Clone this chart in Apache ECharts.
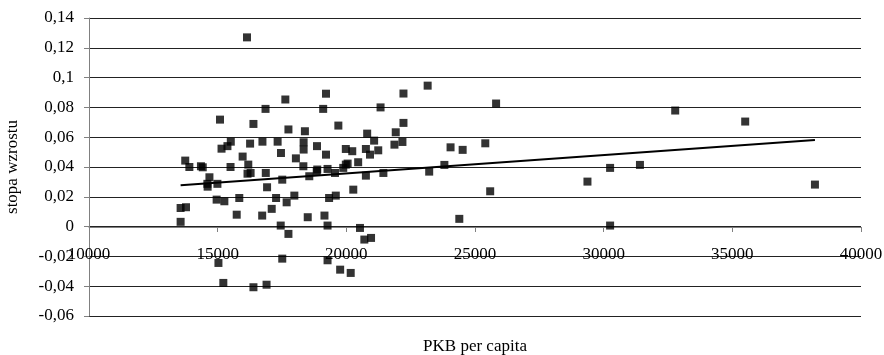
<!DOCTYPE html>
<html>
<head>
<meta charset="utf-8">
<script src="https://cdn.jsdelivr.net/npm/echarts@6/dist/echarts.min.js"></script>
<style>
  html, body { margin: 0; padding: 0; background: #fff; }
  #chart { width: 884px; height: 355px; }
</style>
</head>
<body>
<div id="chart"></div>
<script>
// PKB per capita (x) i stopa wzrostu (y)
const pkb = [
  16140, 15090, 13740, 13900, 14350, 14420, 14680, 15150, 15380, 15510,
  15500, 15970, 16190, 16160, 16280, 16390, 16260, 16860, 16740, 16870,
  17630, 17330, 17460, 17750, 18040, 19210, 19100, 18390, 19690, 18340,
  18340, 18860, 19210, 19980, 20230, 21080, 20760, 20920, 21240, 21870,
  20460, 20050, 19980, 18330, 18870, 19270, 19880, 18850, 19560, 17510,
  18560, 20760, 21440, 16920, 17270, 17680, 17980, 19330, 19590, 20270,
  17100, 16730, 18500, 19150, 19270, 17450, 17750, 20530, 20700, 20960,
  17510, 19270, 19760, 20170, 14600, 14610, 14990, 14960, 15260, 15840,
  13560, 13770, 13560, 15740, 15030, 15220, 16390, 16900, 23160, 22220,
  21330, 25820, 22220, 21920, 20810, 22180, 24050, 24520, 25400, 23220,
  23810, 25590, 24390, 32780, 35500, 30250, 31410, 29370, 38210, 30250
]
const wzrost = [
  0.127, 0.0718, 0.0443, 0.0400, 0.0405, 0.0398, 0.0331, 0.0523, 0.0540, 0.0570,
  0.0400, 0.0470, 0.0416, 0.0355, 0.0360, 0.0689, 0.0557, 0.0790, 0.0570, 0.0360,
  0.0853, 0.0570, 0.0494, 0.0652, 0.0458, 0.0892, 0.0790, 0.0640, 0.0678, 0.0566,
  0.0517, 0.0540, 0.0483, 0.0521, 0.0506, 0.0577, 0.0521, 0.0483, 0.0512, 0.0550,
  0.0432, 0.0423, 0.0416, 0.0405, 0.0383, 0.0387, 0.0394, 0.0371, 0.0360, 0.0315,
  0.0338, 0.0342, 0.0360, 0.0264, 0.0192, 0.0163, 0.0208, 0.0192, 0.0208, 0.0248,
  0.0119, 0.0074, 0.0063, 0.0074, 0.0007, 0.0007, -0.0049, -0.0009, -0.0087, -0.0076,
  -0.0215, -0.0226, -0.0289, -0.0311, 0.0287, 0.0268, 0.0287, 0.0181, 0.0170, 0.0192,
  0.0125, 0.0130, 0.0032, 0.0080, -0.0244, -0.0378, -0.0407, -0.0390, 0.0946, 0.0893,
  0.0800, 0.0826, 0.0696, 0.0633, 0.0624, 0.0568, 0.0532, 0.0515, 0.0559, 0.0369,
  0.0414, 0.0237, 0.0052, 0.0779, 0.0705, 0.0394, 0.0414, 0.0302, 0.0282, 0.0007
]
// linia trendu (końce)
const trendX = [13560, 38210]
const trendY = [0.0277, 0.0582]

const font = 'Liberation Serif'
const points = pkb.map((x, i) => [x, wzrost[i]])
const trend = trendX.map((x, i) => [x, trendY[i]])

const chart = echarts.init(document.getElementById('chart'))
chart.setOption({
  animation: false,
  grid: { left: 89, right: 23, top: 18, bottom: 39, containLabel: false, outerBoundsMode: 'none' },
  xAxis: {
    type: 'value',
    min: 10000,
    max: 40000,
    interval: 5000,
    offset: -89, // oś X przecina oś Y w zerze
    name: 'PKB per capita',
    nameLocation: 'middle',
    nameGap: 111,
    nameTextStyle: { fontFamily: font, fontSize: 17, color: '#000' },
    axisLine: { onZero: false, lineStyle: { color: '#808080', width: 1 } },
    axisTick: { show: true, length: 5, inside: false, lineStyle: { color: '#808080' } },
    axisLabel: {
      fontFamily: font, fontSize: 17, color: '#000', margin: 19,
      formatter: v => String(v)
    },
    splitLine: { show: false }
  },
  yAxis: {
    type: 'value',
    min: -0.06,
    max: 0.14,
    interval: 0.02,
    name: 'stopa wzrostu',
    nameLocation: 'middle',
    nameGap: 68,
    nameTextStyle: { fontFamily: font, fontSize: 17, color: '#000' },
    axisLine: { show: true, lineStyle: { color: '#808080', width: 1 } },
    axisTick: { show: true, length: 5, lineStyle: { color: '#808080' } },
    axisLabel: {
      fontFamily: font, fontSize: 17, color: '#000', margin: 15,
      formatter: v => String(parseFloat(v.toFixed(4))).replace('.', ',')
    },
    splitLine: { show: true, lineStyle: { color: '#222', width: 1 } }
  },
  series: [
    {
      type: 'scatter',
      symbol: 'rect',
      symbolSize: 8,
      itemStyle: { color: '#000' },
      data: points,
      z: 3
    },
    {
      type: 'line',
      data: trend,
      symbol: 'none',
      lineStyle: { color: '#000', width: 2 },
      z: 4
    }
  ]
})
</script>
</body>
</html>
